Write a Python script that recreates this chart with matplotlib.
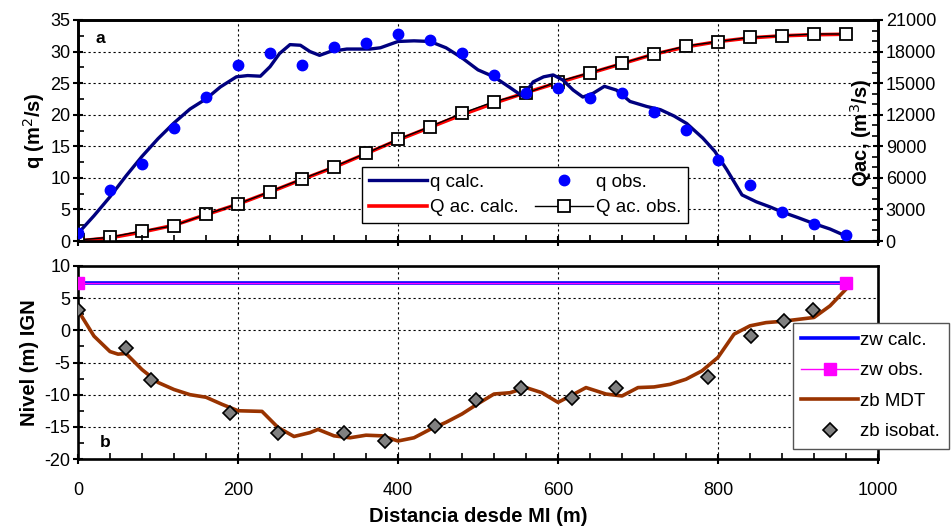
import matplotlib
matplotlib.use("Agg")
import matplotlib.pyplot as plt
from matplotlib.ticker import MultipleLocator

plt.rcParams['font.family'] = ['Liberation Sans', 'DejaVu Sans']
plt.rcParams['axes.unicode_minus'] = False

# ---------------- data: panel a ----------------
x_qobs = [0, 40, 80, 120, 160, 200, 240, 280, 320, 360, 400, 440, 480, 520, 560,
          600, 640, 680, 720, 760, 800, 840, 880, 920, 960]
q_obs = [1.2, 8.0, 12.2, 17.9, 22.8, 27.9, 29.8, 27.9, 30.8, 31.4, 32.8, 31.9, 29.8,
         26.3, 23.5, 24.3, 22.7, 23.4, 20.4, 17.6, 12.8, 8.9, 4.6, 2.7, 0.95]

x_qcalc = [0, 20, 40, 60, 80, 100, 120, 140, 160, 178, 198, 212, 228, 240, 252, 265,
           278, 290, 302, 315, 336, 365, 378, 400, 420, 440, 460, 480, 500, 520, 540,
           556, 569, 582, 594, 606, 619, 631, 644, 658, 673, 690, 711, 728, 745, 761,
           781, 796, 811, 830, 848, 865, 880, 900, 919, 940, 957]
q_calc = [1.2, 4.0, 7.0, 10.3, 13.4, 16.2, 18.7, 20.9, 22.5, 24.4, 26.0, 26.2, 26.1,
          27.6, 29.7, 31.1, 31.0, 30.0, 29.4, 30.0, 30.4, 30.4, 30.6, 31.6, 31.7, 31.6,
          30.6, 29.0, 27.1, 26.0, 24.3, 22.9, 25.2, 26.0, 26.3, 25.5, 23.9, 22.8, 23.4,
          24.5, 23.9, 22.1, 21.3, 20.8, 19.8, 18.6, 16.3, 14.2, 11.3, 7.3, 6.2, 5.4,
          4.6, 3.7, 2.8, 1.9, 0.95]

x_Qobs = [0, 40, 80, 120, 160, 200, 240, 280, 320, 360, 400, 440, 480, 520, 560,
          600, 640, 680, 720, 760, 800, 840, 880, 920, 960]
Q_obs = [100, 350, 950, 1450, 2540, 3520, 4690, 5890, 7060, 8330, 9660, 10860, 12130,
         13240, 14040, 15140, 15990, 16890, 17770, 18530, 18940, 19360, 19510, 19670, 19670]

x_Qcalc = [0, 40, 80, 120, 160, 200, 240, 280, 320, 360, 400, 440, 480, 520, 560,
           600, 640, 680, 720, 760, 800, 840, 880, 920, 960]
Q_calc = [0, 300, 850, 1500, 2500, 3500, 4650, 5850, 7000, 8300, 9600, 10800, 12000,
          13100, 14100, 15050, 15950, 16850, 17750, 18450, 18950, 19300, 19500, 19600, 19650]

# ---------------- data: panel b ----------------
x_zw = [0, 960]
zw_calc = [7.3, 7.3]
zw_obs = [7.3, 7.3]

x_zbmdt = [0, 20, 40, 50, 60, 80, 100, 120, 140, 160, 180, 200, 230, 250, 270, 290,
           300, 320, 340, 360, 380, 400, 420, 440, 460, 480, 500, 520, 540, 560, 580,
           600, 620, 635, 660, 680, 700, 720, 740, 760, 780, 800, 820, 840, 860, 880,
           900, 920, 940, 960]
zb_mdt = [3.1, -0.9, -3.3, -3.7, -3.6, -6.1, -8.1, -9.2, -10.0, -10.4, -11.5, -12.5,
          -12.6, -15.1, -16.5, -15.9, -15.4, -16.4, -16.7, -16.3, -16.4, -17.2, -16.7,
          -15.4, -14.3, -13.0, -11.4, -9.9, -9.7, -8.9, -9.7, -11.2, -9.9, -8.9, -9.9,
          -10.2, -8.9, -8.8, -8.4, -7.6, -6.3, -4.2, -0.6, 0.7, 1.2, 1.4, 1.7, 2.0, 3.8, 6.4]

x_isob = [0, 60, 91, 190, 250, 332, 384, 446, 498, 554, 617, 672, 787, 841, 882, 919]
zb_isob = [3.1, -2.8, -7.7, -12.8, -15.9, -16.0, -17.2, -14.8, -10.9, -8.9, -10.5,
           -8.9, -7.2, -0.9, 1.5, 3.1]

# ---------------- figure ----------------
W, H = 951, 526
fig = plt.figure(figsize=(W / 100, H / 100), dpi=100)

def fbox(l, t, r, b):
    return [l / W, 1 - b / H, (r - l) / W, (b - t) / H]

axa = fig.add_axes(fbox(78, 20, 878, 241))
axb = fig.add_axes(fbox(78, 266, 878, 459))
axr = axa.twinx()

tick_fs = 13
lab_fs = 14.5
leg_fs = 13.5

def style(ax):
    for s in ax.spines.values():
        s.set_linewidth(1.9)
    ax.tick_params(which='major', direction='inout', length=7, width=1.5,
                   labelsize=tick_fs, colors='black', pad=2)
    ax.tick_params(which='minor', direction='in', length=4, width=1.2)

# panel a
axa.plot(x_qcalc, q_calc, color='#00007F', lw=2.4, label='q calc.', zorder=3,
         solid_joinstyle='round')
axa.plot(x_qobs, q_obs, 'o', color='#0000FF', ms=7.5, mec='#0000FF', ls='none',
         label='q obs.', zorder=4)
axa.set_xlim(0, 1000)
axa.set_ylim(0, 35)
axa.yaxis.set_major_locator(MultipleLocator(5))
axa.yaxis.set_minor_locator(MultipleLocator(2.5))
axa.xaxis.set_major_locator(MultipleLocator(200))
axa.xaxis.set_minor_locator(MultipleLocator(40))
axa.tick_params(axis='x', labelbottom=False)
axa.grid(True, which='major', color='black', ls=(0, (2, 2.5)), lw=0.8)
axa.set_ylabel('q (m$^2$/s)', fontsize=lab_fs, fontweight='bold', labelpad=2)
style(axa)

axr.plot(x_Qcalc, Q_calc, color='#FF0000', lw=2.6, label='Q ac. calc.', zorder=3)
axr.plot(x_Qobs, Q_obs, color='black', lw=1.0, marker='s', ms=8, mfc='white',
         mec='black', mew=1.3, label='Q ac. obs.', zorder=5)
axr.set_ylim(0, 21000)
axr.yaxis.set_major_locator(MultipleLocator(3000))
axr.yaxis.set_minor_locator(MultipleLocator(1000))
style(axr)
axr.set_ylabel('Qac, (m$^3$/s)', fontsize=lab_fs, fontweight='bold', rotation=90)
axr.yaxis.set_label_coords(0.963, 0.49)
axa.set_zorder(axr.get_zorder() + 1)
axa.patch.set_visible(False)

axa.text(0.022, 0.915, 'a', transform=axa.transAxes, fontsize=12.5, fontweight='bold',
         va='center', ha='left')

h1, l1 = axa.get_legend_handles_labels()
h2, l2 = axr.get_legend_handles_labels()
handles = [h1[0], h2[0], h1[1], h2[1]]
labels = [l1[0], l2[0], l1[1], l2[1]]
lega = fig.legend(handles, labels, ncol=2, loc='upper left',
                  bbox_to_anchor=(362 / W, 1 - 167 / H), fontsize=leg_fs,
                  frameon=True, fancybox=False, edgecolor='black', framealpha=1,
                  handlelength=3.1, handletextpad=0.15, columnspacing=0.9,
                  borderpad=0.35, labelspacing=0.45, borderaxespad=0)
lega.get_frame().set_linewidth(1.0)

# panel b
axb.plot(x_zw, zw_calc, color='#0000FF', lw=2.6, label='zw calc.', zorder=3)
axb.plot(x_zw, zw_obs, color='#FF00FF', lw=1.0, marker='s', ms=8, mfc='#FF00FF',
         mec='#FF00FF', label='zw obs.', zorder=4)
axb.plot(x_zbmdt, zb_mdt, color='#993300', lw=2.6, label='zb MDT', zorder=3,
         solid_joinstyle='round')
axb.plot(x_isob, zb_isob, 'D', color='#808080', ms=7, mec='black', mew=1.2,
         ls='none', label='zb isobat.', zorder=4)
axb.set_xlim(0, 1000)
axb.set_ylim(-20, 10)
axb.yaxis.set_major_locator(MultipleLocator(5))
axb.yaxis.set_minor_locator(MultipleLocator(2.5))
axb.xaxis.set_major_locator(MultipleLocator(200))
axb.xaxis.set_minor_locator(MultipleLocator(40))
axb.grid(True, which='major', color='black', ls=(0, (2, 2.5)), lw=0.8)
axb.set_ylabel('Nivel (m) IGN', fontsize=lab_fs, fontweight='bold', labelpad=4)
axb.set_xlabel('Distancia desde MI (m)', fontsize=lab_fs, fontweight='bold', labelpad=6)
style(axb)
axb.tick_params(axis='x', which='major', pad=13)
axb.text(0.027, 0.083, 'b', transform=axb.transAxes, fontsize=12.5, fontweight='bold',
         va='center', ha='left')

legb = fig.legend(*axb.get_legend_handles_labels(), loc='upper left',
                  bbox_to_anchor=(793 / W, 1 - 323 / H), fontsize=leg_fs,
                  frameon=True, fancybox=False, edgecolor='#555555', framealpha=1,
                  handlelength=3.0, handletextpad=0.15, borderpad=0.45,
                  labelspacing=0.72, borderaxespad=0)
legb.get_frame().set_linewidth(1.0)

fig.savefig('out.png', dpi=100)
